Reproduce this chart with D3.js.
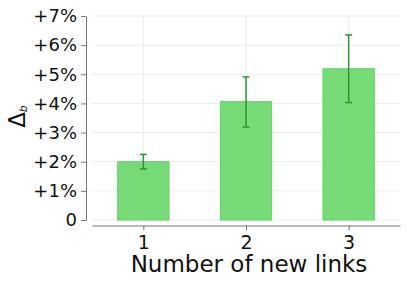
<!DOCTYPE html>
<html>
<head>
<meta charset="utf-8">
<script src="https://cdn.jsdelivr.net/npm/d3@7"></script>
<style>
  body { margin: 0; background: #fff; }
  text { font-family: "DejaVu Sans", sans-serif; fill: #111; }
</style>
</head>
<body>
<div id="chart"></div>
<script>
// Chart data
var categories = [1, 2, 3];
var values = [2.0, 4.06, 5.19];
var errLow = [1.75, 3.19, 4.03];
var errHigh = [2.25, 4.91, 6.35];
var yTicks = [0, 1, 2, 3, 4, 5, 6, 7];
var yTickLabels = ['0', '+1%', '+2%', '+3%', '+4%', '+5%', '+6%', '+7%'];

var width = 407, height = 285;

var svg = d3.select('#chart')
            .append('svg')
            .attr('width', width)
            .attr('height', height);

// Scales
var x = d3.scaleLinear().domain([0.5, 3.5]).range([92, 400]);
var y = d3.scaleLinear().domain([0, 7]).range([220, 16]);
var barW = x(1.25) - x(0.75);

// Grid
svg.append('g')
   .selectAll('line')
   .data(yTicks)
   .enter().append('line')
   .attr('x1', 92).attr('x2', 400)
   .attr('y1', function(d) { return y(d); })
   .attr('y2', function(d) { return y(d); })
   .attr('stroke', '#ececec');
svg.append('g')
   .selectAll('line')
   .data(categories)
   .enter().append('line')
   .attr('x1', function(d) { return x(d); })
   .attr('x2', function(d) { return x(d); })
   .attr('y1', y(7)).attr('y2', y(0))
   .attr('stroke', '#ececec');

// Y axis
var yAxis = svg.append('g')
   .attr('transform', 'translate(86,0)')
   .call(d3.axisLeft(y).tickValues(yTicks).tickSize(5).tickSizeOuter(0)
           .tickPadding(4)
           .tickFormat(function(d, i) { return yTickLabels[i]; }));
yAxis.selectAll('text').style('font-size', '18px');

// X axis
var xAxis = svg.append('g')
   .attr('transform', 'translate(0,225.5)')
   .call(d3.axisBottom(x).tickValues(categories).tickSize(5).tickSizeOuter(0)
           .tickPadding(5)
           .tickFormat(d3.format('d')));
xAxis.selectAll('text').style('font-size', '19px');

svg.selectAll('.domain').attr('stroke', '#777');
svg.selectAll('.tick line').attr('stroke', '#777');

// Bars
svg.append('g')
   .selectAll('rect')
   .data(values)
   .enter().append('rect')
   .attr('x', function(d, i) { return x(categories[i]) - barW / 2; })
   .attr('y', function(d) { return y(d); })
   .attr('width', barW)
   .attr('height', function(d) { return y(0) - y(d); })
   .attr('fill', '#77dc77')
   .attr('stroke', '#5fd35f')
   .attr('stroke-width', 1);

// Error bars
var eb = svg.append('g')
   .attr('stroke', '#2e962e')
   .attr('stroke-width', 1.5);
categories.forEach(function(c, i) {
  var cx = x(c);
  eb.append('line').attr('x1', cx).attr('x2', cx)
    .attr('y1', y(errLow[i])).attr('y2', y(errHigh[i]));
  eb.append('line').attr('x1', cx - 3.5).attr('x2', cx + 3.5)
    .attr('y1', y(errLow[i])).attr('y2', y(errLow[i]));
  eb.append('line').attr('x1', cx - 3.5).attr('x2', cx + 3.5)
    .attr('y1', y(errHigh[i])).attr('y2', y(errHigh[i]));
});

// Axis titles
svg.append('text')
   .attr('x', 249)
   .attr('y', 272)
   .attr('text-anchor', 'middle')
   .style('font-size', '23px')
   .text('Number of new links');

var yl = svg.append('text')
   .attr('transform', 'translate(25,116.5) rotate(-90)')
   .attr('text-anchor', 'middle')
   .style('font-size', '23px');
yl.append('tspan').text('\u0394');
yl.append('tspan')
  .attr('dy', 2)
  .style('font-size', '11px')
  .style('font-style', 'italic')
  .text('b');
</script>
</body>
</html>
